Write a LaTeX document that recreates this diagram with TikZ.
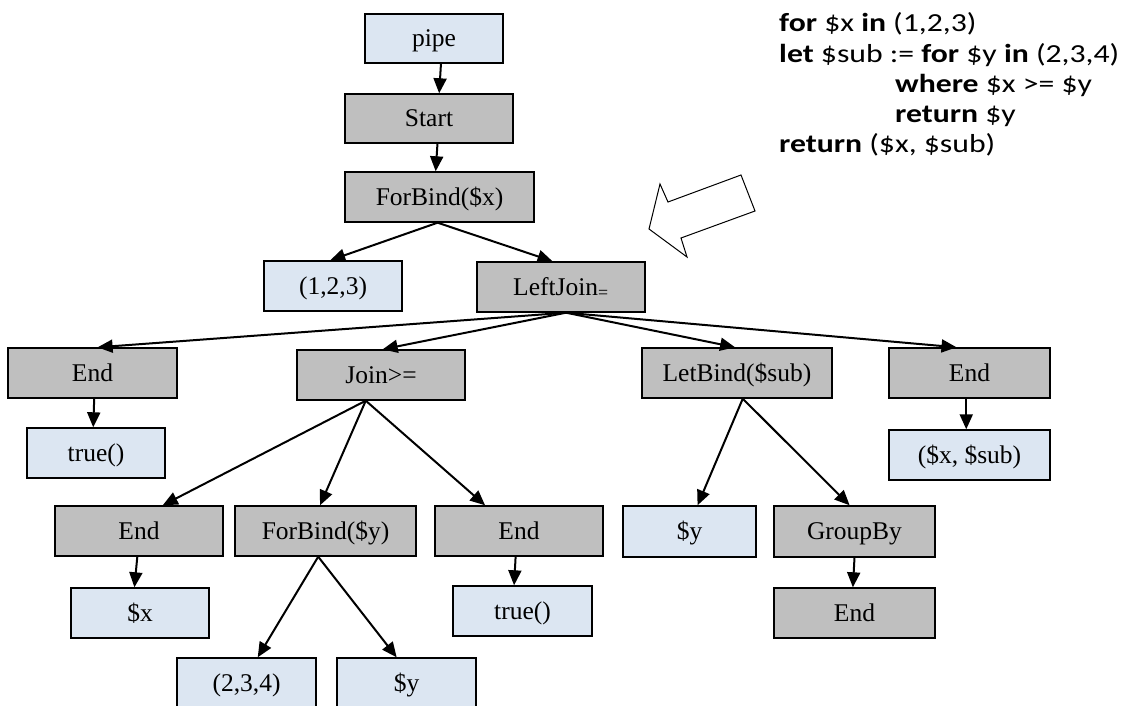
\documentclass[tikz,border=0pt]{standalone}
\usepackage{fontspec}
\setmainfont{Liberation Serif}
\newfontfamily\codefont[FakeStretch=1.22]{Carlito}
\usetikzlibrary{arrows.meta,calc}

\definecolor{leafblue}{HTML}{DCE6F2}
\definecolor{opgray}{HTML}{BFBFBF}

% edge from a fraction along the bottom of #1 to a fraction along the top of #3
\newcommand\linkto[4]{%
  \draw[flow] ($(#1.south west)!#2!(#1.south east)$) -- ($(#3.north west)!#4!(#3.north east)$);}

\tikzset{
  box/.style={draw=black, line width=1.4pt, inner sep=0pt,
    text height=21pt, text depth=5pt,
    font=\fontsize{25.5}{30}\selectfont},
  leaf/.style={box, fill=leafblue},
  op/.style={box, fill=opgray},
  flow/.style={line width=2pt, -{Triangle[length=15pt,width=13pt]}},
  code/.style={anchor=base west, inner sep=0pt,
    font=\codefont\fontsize{26}{30}\selectfont},
}

\begin{document}
\begin{tikzpicture}[x=1pt, y=-1pt]
\useasboundingbox (0,0) rectangle (1127,706);
\clip (0,0) rectangle (1127,706);

% operator tree
\node[leaf, minimum width=138, minimum height=49] (pipe)  at (434,38.5)   {pipe};
\node[op,   minimum width=168, minimum height=49] (start) at (429,118.5)  {Start};
\node[op,   minimum width=189, minimum height=50] (fbx)   at (439.5,197)  {ForBind(\$x)};
\node[leaf, minimum width=138, minimum height=50] (l123)  at (333,286)    {(1,2,3)};
\node[op,   minimum width=168, minimum height=50] (lj)    at (561,287)    {LeftJoin\textsubscript{=}};
\node[op,   minimum width=169, minimum height=50] (endA)  at (92.5,373)   {End};
\node[op,   minimum width=168, minimum height=50] (join)  at (381,375)    {Join>=};
\node[op,   minimum width=190, minimum height=50] (let)   at (737,373)    {LetBind(\$sub)};
\node[op,   minimum width=161, minimum height=50] (endB)  at (969.5,373)  {End};
\node[leaf, minimum width=138, minimum height=50] (trueA) at (96,453)     {true()};
\node[leaf, minimum width=161, minimum height=50] (xsub)  at (969.5,455)  {(\$x, \$sub)};
\node[op,   minimum width=168, minimum height=50] (endC)  at (139,531)    {End};
\node[op,   minimum width=181, minimum height=50] (fby)   at (325.5,531)  {ForBind(\$y)};
\node[op,   minimum width=168, minimum height=50] (endD)  at (519,531)    {End};
\node[leaf, minimum width=133, minimum height=51] (yA)    at (689.5,531.5){\$y};
\node[op,   minimum width=161, minimum height=51] (grp)   at (854.5,531.5){GroupBy};
\node[leaf, minimum width=138, minimum height=50] (xA)    at (140,613)    {\$x};
\node[leaf, minimum width=139, minimum height=50] (trueB) at (522.5,611)  {true()};
\node[op,   minimum width=161, minimum height=50] (endE)  at (854.5,613)  {End};
\node[leaf, minimum width=139, minimum height=50] (l234)  at (246.5,683)  {(2,3,4)};
\node[leaf, minimum width=139, minimum height=50] (yB)    at (406.5,683)  {\$y};

\linkto{pipe}{0.55}{start}{0.56}
\linkto{start}{0.55}{fbx}{0.48}
\linkto{fbx}{0.49}{l123}{0.48}
\linkto{fbx}{0.49}{lj}{0.45}
\linkto{lj}{0.53}{endA}{0.53}
\linkto{lj}{0.53}{join}{0.51}
\linkto{lj}{0.53}{let}{0.49}
\linkto{lj}{0.53}{endB}{0.42}
\linkto{endA}{0.51}{trueA}{0.48}
\linkto{endB}{0.48}{xsub}{0.48}
\linkto{join}{0.41}{endC}{0.64}
\linkto{join}{0.41}{fby}{0.47}
\linkto{join}{0.41}{endD}{0.30}
\linkto{let}{0.53}{yA}{0.56}
\linkto{let}{0.53}{grp}{0.47}
\linkto{endC}{0.49}{xA}{0.46}
\linkto{endD}{0.48}{trueB}{0.44}
\linkto{grp}{0.50}{endE}{0.49}
\linkto{fby}{0.46}{l234}{0.58}
\linkto{fby}{0.46}{yB}{0.43}

% hollow block arrow pointing at the tree
\draw[line width=1pt, fill=white, line join=miter]
  (649,229) -- (660,184) -- (668,202) -- (741,175) -- (755,211)
  -- (681,238) -- (687,257) -- cycle;

% query text
\node[code] (c1) at (779,32)  {\textbf{for} \$x \textbf{in} (1,2,3)};
\node[code] (c2) at (779,63)  {\textbf{let} \$sub := \textbf{for} \$y \textbf{in} (2,3,4)};
\node[code] (c3) at (895,93)  {\textbf{where} \$x >= \$y};
\node[code] (c4) at (895,123) {\textbf{return} \$y};
\node[code] (c5) at (779,153) {\textbf{return} (\$x, \$sub)};
\end{tikzpicture}
\end{document}
